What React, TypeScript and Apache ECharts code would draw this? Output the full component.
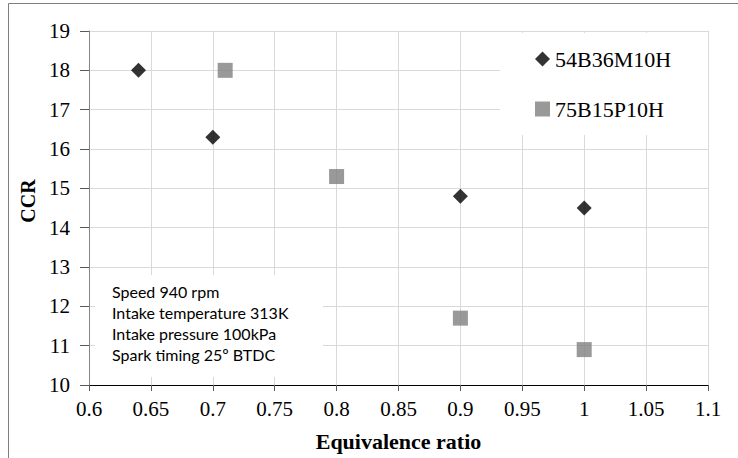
import React, { useEffect, useRef } from "react";
import * as echarts from "echarts";

const seriesNames = ["54B36M10H", "75B15P10H"];
const series1X = [0.64, 0.7, 0.9, 1.0];
const series1Y = [18, 16.3, 14.8, 14.5];
const series2X = [0.71, 0.8, 0.9, 1.0];
const series2Y = [18, 15.3, 11.7, 10.9];
const xTickLabels = ["0.6", "0.65", "0.7", "0.75", "0.8", "0.85", "0.9", "0.95", "1", "1.05", "1.1"];
const yTickLabels = ["10", "11", "12", "13", "14", "15", "16", "17", "18", "19"];
const annotationLines = [
  "Speed 940 rpm",
  "Intake temperature 313K",
  "Intake pressure 100kPa",
  "Spark timing 25º BTDC",
];

export default function App() {
  const ref = useRef<HTMLDivElement>(null);
  useEffect(() => {
    document.body.style.margin = "0";
    const chart = echarts.init(ref.current!, null, { renderer: "svg" });
    const serif = "Liberation Serif";
    const xMin = Number(xTickLabels[0]);
    const xMax = Number(xTickLabels[xTickLabels.length - 1]);
    const yMin = Number(yTickLabels[0]);
    const yMax = Number(yTickLabels[yTickLabels.length - 1]);
    const option: any = {
      animation: false,
      backgroundColor: "#ffffff",
      grid: { left: 89, right: 30, top: 31, bottom: 73 },
      xAxis: {
        type: "value",
        min: xMin,
        max: xMax,
        interval: 0.05,
        name: "Equivalence ratio",
        nameLocation: "middle",
        nameGap: 45,
        nameTextStyle: { fontFamily: serif, fontSize: 22, fontWeight: "bold", color: "#000" },
        axisLine: { show: true, lineStyle: { color: "#000", width: 1 } },
        axisTick: { show: true, length: 6, lineStyle: { color: "#595959" } },
        axisLabel: {
          margin: 13,
          fontFamily: serif,
          fontSize: 21,
          color: "#000",
          formatter: (v: number) => {
            const s = String(+v.toFixed(2));
            return xTickLabels.includes(s) ? s : "";
          },
        },
        splitLine: { show: true, lineStyle: { color: "#d9d9d9", width: 1 } },
      },
      yAxis: {
        type: "value",
        min: yMin,
        max: yMax,
        interval: 1,
        name: "CCR",
        nameLocation: "middle",
        nameGap: 45,
        nameRotate: 90,
        nameTextStyle: { fontFamily: serif, fontSize: 20, fontWeight: "bold", color: "#000", padding: [0, 0, 0, 14] },
        axisLine: { show: true, lineStyle: { color: "#868686", width: 1 } },
        axisTick: { show: true, length: 9, lineStyle: { color: "#595959" } },
        axisLabel: {
          margin: 19,
          fontFamily: serif,
          fontSize: 21,
          color: "#000",
          formatter: (v: number) => String(Math.round(v)),
        },
        splitLine: { show: true, lineStyle: { color: "#d9d9d9", width: 1 } },
      },
      legend: {
        orient: "vertical",
        left: 535,
        top: 48,
        padding: 0,
        itemGap: 28,
        itemWidth: 15,
        itemHeight: 15,
        data: seriesNames,
        textStyle: { fontFamily: serif, fontSize: 22, color: "#000", lineHeight: 22 },
        z: 6,
      },
      graphic: [
        {
          type: "rect",
          shape: { x: 8.5, y: 3.5, width: 1000, height: 1000 },
          style: { fill: "none", stroke: "#7f7f7f", lineWidth: 1 },
          z: 10,
          silent: true,
        },
        {
          type: "rect",
          shape: { x: 500, y: 33, width: 208, height: 102 },
          style: { fill: "#ffffff" },
          z: 1,
          silent: true,
        },
        {
          type: "rect",
          shape: { x: 95, y: 275, width: 228, height: 102 },
          style: { fill: "#ffffff" },
          z: 1,
          silent: true,
        },
        ...annotationLines.map((t, i) => ({
          type: "text",
          x: 112,
          y: 291 + i * 21.3,
          z: 5,
          silent: true,
          style: {
            text: t,
            fontFamily: "Lato",
            fontSize: 16,
            fill: "#000",
            verticalAlign: "middle",
          },
        })),
      ],
      series: [
        {
          name: seriesNames[0],
          type: "scatter",
          symbol: "diamond",
          symbolSize: 15,
          itemStyle: { color: "#000000" },
          data: series1X.map((x, i) => [x, series1Y[i]]),
          z: 3,
        },
        {
          name: seriesNames[1],
          type: "scatter",
          symbol: "rect",
          symbolSize: 15,
          itemStyle: { color: "#808080" },
          data: series2X.map((x, i) => [x, series2Y[i]]),
          z: 3,
        },
      ],
    };
    chart.setOption(option);
    return () => chart.dispose();
  }, []);
  return <div ref={ref} style={{ position: "fixed", left: 0, top: 0, width: 738, height: 458 }} />;
}
